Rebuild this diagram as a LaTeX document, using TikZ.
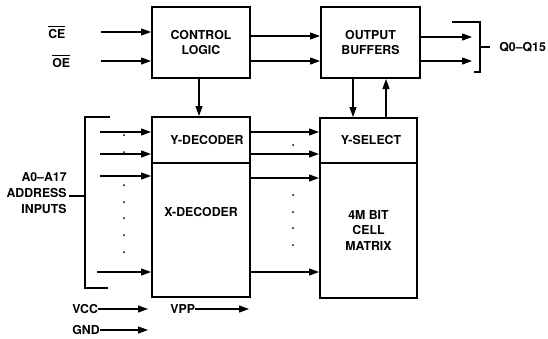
\documentclass[tikz,border=0pt]{standalone}
\usepackage{fontspec}
\setmainfont{TeX Gyre Heros}
\usetikzlibrary{arrows.meta}

\begin{document}
\begin{tikzpicture}[x=0.2mm, y=-0.2mm, font=\fontsize{7}{9}\selectfont\bfseries,
    blk/.style={draw, line width=0.4mm, minimum width=19.6mm, align=center, inner sep=0pt},
    arr/.style={-{Triangle[length=2mm,width=1.4mm]}, line width=0.24mm},
    wire/.style={line width=0.24mm},
    lbl/.style={inner sep=0pt, align=right}]
    \useasboundingbox (0,0) rectangle (548,338);

    % blocks
    \node[blk, minimum height=14.2mm] (ctl) at (201,42.5) {CONTROL\\LOGIC};
    \node[blk, minimum width=19.8mm, minimum height=14.2mm] (obuf) at (370.5,42.5) {OUTPUT\\BUFFERS};
    \node[blk, minimum height=9.2mm] (ydec) at (201,140) {\hspace{2.4mm}Y-DECODER};
    \node[blk, minimum height=26.8mm] (xdec) at (201,230) {X-DECODER\\[4mm]};
    \node[blk, minimum width=19.4mm, minimum height=9mm] (ysel) at (368.5,140.5) {\hspace{1mm}Y-SELECT};
    \node[blk, minimum width=19.4mm, minimum height=27mm] (cell) at (368.5,230.5) {4M BIT\\CELL\\MATRIX};

    % control inputs
    \node[lbl, anchor=west] (ce) at (48,32) {$\overline{\mbox{CE}}$};
    \node[lbl, anchor=west] (oe) at (52,61) {$\overline{\mbox{OE}}$};
    \coordinate (cein) at (101,32);
    \coordinate (oein) at (101,61);
    \draw[arr] (cein) -- (cein -| ctl.west);
    \draw[arr] (oein) -- (oein -| ctl.west);
    \draw[arr] ([yshift=1.3mm]ctl.east) -- ([yshift=1.3mm]obuf.west);
    \draw[arr] ([yshift=-3.7mm]ctl.east) -- ([yshift=-3.7mm]obuf.west);
    \draw[arr] (ctl.south -| 199,0) -- (ydec.north -| 199,0);
    \draw[arr] (obuf.south -| 353,0) -- (ysel.north -| 353,0);
    \draw[arr] (ysel.north -| 386,0) -- (obuf.south -| 386,0);

    % outputs
    \coordinate (q1) at (472,37);
    \coordinate (q2) at (472,61);
    \draw[arr] (obuf.east |- q1) -- (q1);
    \draw[arr] (obuf.east |- q2) -- (q2);
    \draw[wire] (452,22) -- (480,22) -- (480,72) -- (474,72);
    \node[lbl, anchor=west] (q) at (499,47) {Q0--Q15};
    \draw[wire] (480,47) -- (490,47);

    % address inputs
    \node[lbl, anchor=east] (addr) at (67,193) {A0--A17\\ADDRESS\\INPUTS};
    \draw[wire] (110,117) -- (85,117) -- (85,288) -- (108,288);
    \draw[wire] (69,196) -- (85,196);
    \foreach \y in {132,154,176} {
      \coordinate (a\y) at (100,\y);
      \draw[arr] (a\y) -- (a\y -| xdec.west);
    }
    \coordinate (alast) at (97,272);
    \draw[arr] (alast) -- (alast -| xdec.west);
    \foreach \y in {135,152,185,202,218,235,252}
      \fill (124,\y) circle (0.2mm);

    % decoder to matrix
    \foreach \y in {132,154,178,272} {
      \coordinate (d\y) at (250,\y);
      \draw[arr] (d\y) -- (d\y -| cell.west);
    }
    \foreach \y in {145,195,212,228,245}
      \fill (293,\y) circle (0.2mm);

    % supplies
    \node[lbl, anchor=west] (vcc) at (72,309) {VCC};
    \node[lbl, anchor=west] (vpp) at (170,309) {VPP};
    \node[lbl, anchor=west] (gnd) at (72,330) {GND};
    \draw[arr] (vcc.east) -- (148,309);
    \draw[arr] (vpp.east) -- (249,309);
    \draw[arr] (gnd.east) -- (148,330);
\end{tikzpicture}
\end{document}
